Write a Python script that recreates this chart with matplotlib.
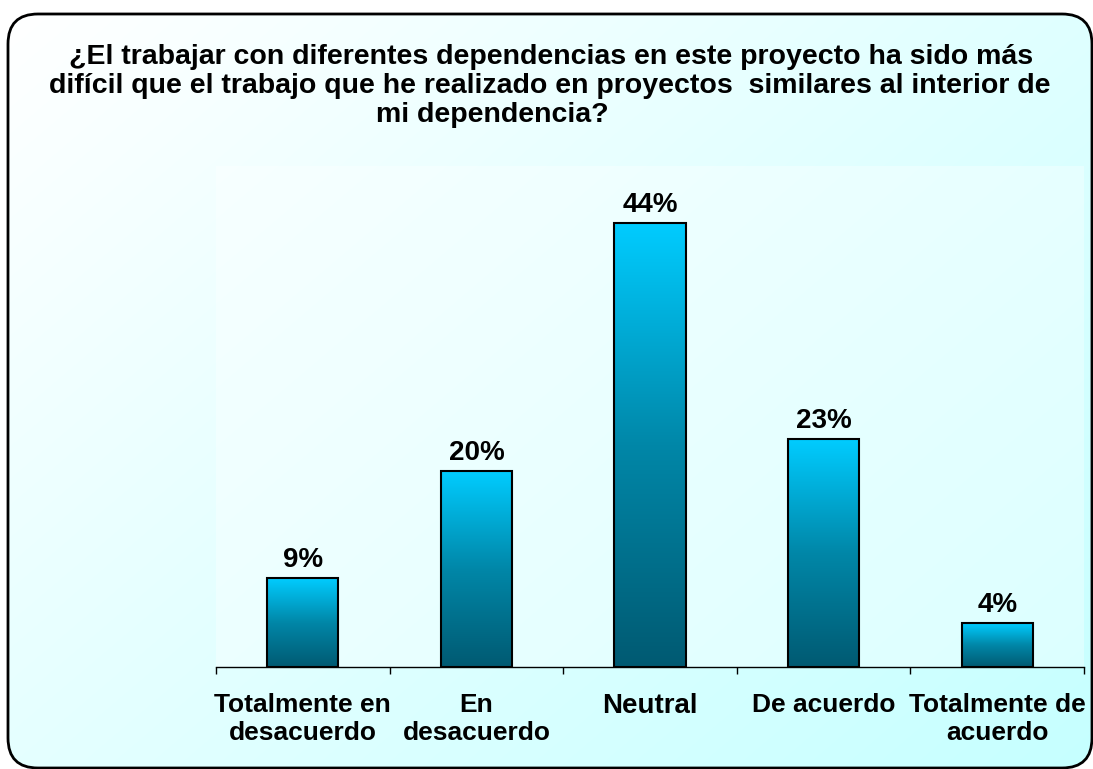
import numpy as np
import matplotlib
matplotlib.use('Agg')
import matplotlib.pyplot as plt
from matplotlib.patches import FancyBboxPatch
from matplotlib.colors import LinearSegmentedColormap

plt.rcParams['font.family'] = ['Liberation Sans', 'DejaVu Sans']

# Data
categories = ['Totalmente en\ndesacuerdo', 'En\ndesacuerdo', 'Neutral',
              'De acuerdo', 'Totalmente de\nacuerdo']
values = [8.9, 19.6, 44.4, 22.8, 4.4]
value_labels = ['9%', '20%', '44%', '23%', '4%']
title_lines = ['¿El trabajar con diferentes dependencias en este proyecto ha sido más',
               'difícil que el trabajo que he realizado en proyectos  similares al interior de',
               'mi dependencia?']

W, H = 1093, 769
fig = plt.figure(figsize=(W / 100, H / 100), dpi=100)
fig.patch.set_facecolor('white')

# Background: rounded frame with diagonal white -> light cyan gradient
bg = fig.add_axes([0, 0, 1, 1], zorder=-10)
bg.set_xlim(0, W)
bg.set_ylim(H, 0)
bg.axis('off')
gx, gy = np.meshgrid(np.linspace(0, 1, 200), np.linspace(0, 1, 200))
grad = (gx * 0.55 + gy * 0.45)
bg_cmap = LinearSegmentedColormap.from_list('bg', ['#ffffff', '#e2ffff', '#c6ffff'])
frame = FancyBboxPatch((8, 14), 1084, 754, boxstyle='round,pad=0,rounding_size=30',
                       transform=bg.transData, facecolor='none', edgecolor='black', lw=2)
im = bg.imshow(grad, cmap=bg_cmap, extent=[8, 1092, 768, 14], aspect='auto',
               interpolation='bilinear', vmin=0, vmax=1)
bg.add_patch(frame)
im.set_clip_path(frame)

# title, line by line (last line sits left of centre in the original)
title_x = [551, 550, 492]
title_y = [64, 93, 122]
for txt, tx, ty in zip(title_lines, title_x, title_y):
    fig.text(tx / W, 1 - ty / H, txt, ha='center', va='baseline', fontsize=20.5,
             fontweight='bold')

# Plot area
ax = fig.add_axes([216 / W, (H - 667) / H, 868 / W, 501 / H])
ax.set_facecolor((1, 1, 1, 0.35))
x = np.arange(len(categories))
bars = ax.bar(x, values, width=0.41, facecolor='none', edgecolor='black',
              linewidth=1.5, zorder=3)
ax.set_xlim(-0.5, len(categories) - 0.5)
ax.set_ylim(0, 50.1)

bar_cmap = LinearSegmentedColormap.from_list('bar', ['#005a72', '#0087a8', '#00ccff'])
ramp = np.linspace(0, 1, 256).reshape(-1, 1)
for b, lab in zip(bars, value_labels):
    x0, w, h = b.get_x(), b.get_width(), b.get_height()
    g = ax.imshow(ramp, cmap=bar_cmap, extent=[x0, x0 + w, 0, h], origin='lower',
                  aspect='auto', zorder=2, interpolation='bilinear')
    g.set_clip_path(b)
    ax.text(x0 + w / 2, h + 1.1, lab, ha='center', va='baseline', fontsize=20,
            fontweight='bold')

for s in ['top', 'right', 'left']:
    ax.spines[s].set_visible(False)
ax.spines['bottom'].set_linewidth(1.0)
ax.set_yticks([])
ax.set_xticks(x)
ax.set_xticklabels(categories, fontsize=19, fontweight='bold', linespacing=1.17)
ax.set_xticks(np.arange(-0.5, len(categories)), minor=True)
ax.tick_params(axis='x', which='major', length=0, pad=19)
ax.tick_params(axis='x', which='minor', length=5, width=1.0, direction='out')
ax.get_xticklabels()[2].set_fontsize(20)

fig.savefig('out.png', dpi=100)
